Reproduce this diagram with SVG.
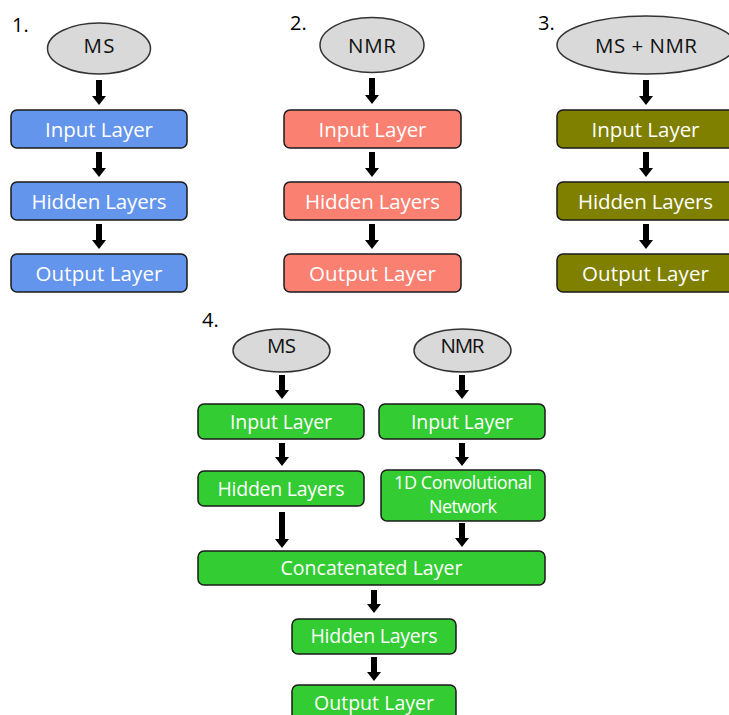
<svg xmlns="http://www.w3.org/2000/svg" width="729" height="715" viewBox="0 0 729 715">
<style>
text{font-family:"Open Sans","Noto Sans",sans-serif;text-anchor:middle}
.num{font-size:20px;fill:#000;text-anchor:start}
.ell{fill:#D9D9D9;stroke:#333;stroke-width:1.5}
.et{font-size:20.5px;fill:#111}
.box{stroke:#1a1a1a;stroke-width:1.5}
.blue{fill:#6495ED}
.salmon{fill:#FA8072}
.olive{fill:#808000}
.green{fill:#33CC33}
.bt{font-size:20.5px;fill:#fff}
.bt4{font-size:19.5px;fill:#fff}
.bt4s{font-size:18px;fill:#fff}
.arr{fill:#000}
</style>
<rect width="729" height="715" fill="#fff"/>
<text class="num" x="12" y="32">1.</text>
<text class="num" x="290" y="30">2.</text>
<text class="num" x="538" y="30">3.</text>
<text class="num" x="202" y="327">4.</text>

<g id="connectors">
<path class="arr" d="M96 80H102V96H106L99 105L92 96H96Z"/>
<path class="arr" d="M96 152H102V168H106L99 177L92 168H96Z"/>
<path class="arr" d="M96 224H102V240H106L99 249L92 240H96Z"/>
<path class="arr" d="M369 78H375V95H379L372 104L365 95H369Z"/>
<path class="arr" d="M369 152H375V168H379L372 177L365 168H369Z"/>
<path class="arr" d="M369 224H375V240H379L372 249L365 240H369Z"/>
<path class="arr" d="M643 80H649V96H653L646 105L639 96H643Z"/>
<path class="arr" d="M643 152H649V168H653L646 177L639 168H643Z"/>
<path class="arr" d="M643 224H649V240H653L646 249L639 240H643Z"/>
<path class="arr" d="M279 375H285V390H289L282 399L275 390H279Z"/>
<path class="arr" d="M459 375H465V390H469L462 399L455 390H459Z"/>
<path class="arr" d="M279 443H285V457H289L282 466L275 457H279Z"/>
<path class="arr" d="M459 443H465V457H469L462 466L455 457H459Z"/>
<path class="arr" d="M279 512H285V539H289L282 548L275 539H279Z"/>
<path class="arr" d="M459 523H465V538H469L462 547L455 538H459Z"/>
<path class="arr" d="M371 590H377V604H381L374 613L367 604H371Z"/>
<path class="arr" d="M371 657H377V672H381L374 681L367 672H371Z"/>
</g>

<g id="n1-ms"><ellipse class="ell" cx="99" cy="48.5" rx="51.5" ry="25.5"/><text class="et" x="99" y="53" textLength="31" lengthAdjust="spacing">MS</text></g>
<g id="n1-input"><rect class="box blue" x="11" y="110" width="176" height="38" rx="6"/><text class="bt" x="99" y="136.5" textLength="108" lengthAdjust="spacing">Input Layer</text></g>
<g id="n1-hidden"><rect class="box blue" x="11" y="182" width="176" height="38" rx="6"/><text class="bt" x="99" y="208.5" textLength="135" lengthAdjust="spacing">Hidden Layers</text></g>
<g id="n1-output"><rect class="box blue" x="11" y="254" width="176" height="38" rx="6"/><text class="bt" x="99" y="280.5" textLength="127" lengthAdjust="spacing">Output Layer</text></g>

<g id="n2-nmr"><ellipse class="ell" cx="372" cy="45" rx="52" ry="27.5"/><text class="et" x="372" y="53" textLength="48" lengthAdjust="spacing">NMR</text></g>
<g id="n2-input"><rect class="box salmon" x="284" y="110" width="177" height="38" rx="6"/><text class="bt" x="372.5" y="136.5" textLength="108" lengthAdjust="spacing">Input Layer</text></g>
<g id="n2-hidden"><rect class="box salmon" x="284" y="182" width="177" height="38" rx="6"/><text class="bt" x="372.5" y="208.5" textLength="135" lengthAdjust="spacing">Hidden Layers</text></g>
<g id="n2-output"><rect class="box salmon" x="284" y="254" width="177" height="38" rx="6"/><text class="bt" x="372.5" y="280.5" textLength="127" lengthAdjust="spacing">Output Layer</text></g>

<g id="n3-msnmr"><ellipse class="ell" cx="646" cy="45" rx="89" ry="29"/><text class="et" x="646" y="53" textLength="102" lengthAdjust="spacing">MS + NMR</text></g>
<g id="n3-input"><rect class="box olive" x="557" y="110" width="177" height="38" rx="6"/><text class="bt" x="645.5" y="136.5" textLength="108" lengthAdjust="spacing">Input Layer</text></g>
<g id="n3-hidden"><rect class="box olive" x="557" y="182" width="177" height="38" rx="6"/><text class="bt" x="645.5" y="208.5" textLength="135" lengthAdjust="spacing">Hidden Layers</text></g>
<g id="n3-output"><rect class="box olive" x="557" y="254" width="177" height="38" rx="6"/><text class="bt" x="645.5" y="280.5" textLength="127" lengthAdjust="spacing">Output Layer</text></g>

<g id="n4-ms"><ellipse class="ell" cx="281.5" cy="350.5" rx="48.5" ry="21.5"/><text class="et" x="281.5" y="353" textLength="29" lengthAdjust="spacing">MS</text></g>
<g id="n4-nmr"><ellipse class="ell" cx="462.5" cy="350.5" rx="48.5" ry="21.5"/><text class="et" x="462.5" y="353" textLength="44" lengthAdjust="spacing">NMR</text></g>
<g id="n4-input-ms"><rect class="box green" x="198" y="404" width="166" height="35" rx="6"/><text class="bt4" x="281" y="429" textLength="102" lengthAdjust="spacing">Input Layer</text></g>
<g id="n4-input-nmr"><rect class="box green" x="379" y="404" width="166" height="35" rx="6"/><text class="bt4" x="462" y="429" textLength="102" lengthAdjust="spacing">Input Layer</text></g>
<g id="n4-hidden-ms"><rect class="box green" x="198" y="471" width="166" height="35" rx="6"/><text class="bt4" x="281" y="496" textLength="127" lengthAdjust="spacing">Hidden Layers</text></g>
<g id="n4-conv"><rect class="box green" x="381" y="470" width="164" height="51" rx="6"/><text class="bt4s" x="463" y="489" textLength="138" lengthAdjust="spacing">1D Convolutional</text><text class="bt4s" x="463" y="513" textLength="68" lengthAdjust="spacing">Network</text></g>
<g id="n4-concat"><rect class="box green" x="198" y="551" width="347" height="34" rx="6"/><text class="bt4" x="371.5" y="575" textLength="182" lengthAdjust="spacing">Concatenated Layer</text></g>
<g id="n4-hidden"><rect class="box green" x="292" y="619" width="164" height="35" rx="6"/><text class="bt4" x="374" y="643" textLength="127" lengthAdjust="spacing">Hidden Layers</text></g>
<g id="n4-output"><rect class="box green" x="292" y="685" width="164" height="40" rx="6"/><text class="bt4" x="374" y="710" textLength="120" lengthAdjust="spacing">Output Layer</text></g>
</svg>
